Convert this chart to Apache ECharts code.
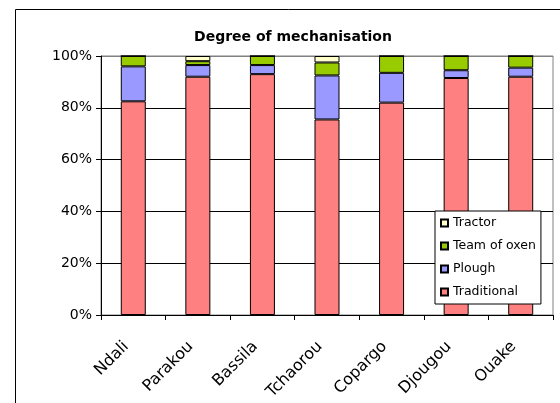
<!DOCTYPE html>
<html>
<head>
<meta charset="utf-8">
<script src="https://cdn.jsdelivr.net/npm/echarts@6/dist/echarts.min.js"></script>
<style>
  html, body { margin: 0; padding: 0; background: #fff; }
  #chart { width: 560px; height: 403px; }
</style>
</head>
<body>
<div id="chart"></div>
<script>
// Share of farms by tillage method, per locality (percent)
const locations = ['Ndali', 'Parakou', 'Bassila', 'Tchaorou', 'Copargo', 'Djougou', 'Ouake'];
const traditional = [82.5, 92, 93, 75.5, 82, 91.5, 92];
const plough      = [13.5, 4.5, 3.5, 17, 11.5, 3, 3.5];
const teamOfOxen  = [4, 1.5, 3.5, 5, 6.5, 5.5, 4.5];
const tractor     = [0, 2, 0, 2.5, 0, 0, 0];
const yTicks = [0, 20, 40, 60, 80, 100];

const font = 'DejaVu Sans, Verdana, sans-serif';

function stackSeries(name, values, color) {
  return {
    name: name,
    type: 'bar',
    stack: 'total',
    barWidth: 25,
    data: values,
    itemStyle: { color: color, borderColor: '#000', borderWidth: 1 },
    emphasis: { disabled: true }
  };
}

const chart = echarts.init(document.getElementById('chart'), null, { renderer: 'canvas' });
chart.setOption({
  animation: false,
  backgroundColor: '#fff',
  title: {
    text: 'Degree of mechanisation',
    left: 288, top: 25, textAlign: 'center',
    textStyle: { fontFamily: font, fontSize: 14, fontWeight: 'bold', color: '#000' }
  },
  legend: {
    orient: 'vertical',
    left: 435, top: 211,
    padding: [5, 5, 5, 5],
    backgroundColor: '#fff',
    borderColor: '#000', borderWidth: 1,
    itemWidth: 7, itemHeight: 7, itemGap: 9,
    icon: 'rect',
    data: ['Tractor', 'Team of oxen', 'Plough', 'Traditional'],
    textStyle: { fontFamily: font, fontSize: 12.5, color: '#000', lineHeight: 14 }
  },
  grid: { left: 101, right: 7, top: 56, bottom: 88, show: true, borderColor: '#808080', borderWidth: 1 },
  xAxis: {
    type: 'category',
    data: locations,
    axisLine: { lineStyle: { color: '#000' } },
    axisTick: { show: true, length: 5, lineStyle: { color: '#000' } },
    axisLabel: { rotate: 45, margin: 22, padding: [0, 10, 0, 0], fontFamily: font, fontSize: 16, color: '#000' }
  },
  yAxis: {
    type: 'value',
    min: yTicks[0], max: yTicks[yTicks.length - 1], interval: 20,
    axisLine: { show: true, lineStyle: { color: '#000' } },
    axisTick: { show: true, length: 5, lineStyle: { color: '#000' } },
    axisLabel: { formatter: '{value}%', margin: 9, fontFamily: font, fontSize: 14, color: '#000' },
    splitLine: { lineStyle: { color: ['#000', '#000', '#000', '#000', '#000', '#808080'] } }
  },
  series: [
    stackSeries('Traditional', traditional, '#FF8080'),
    stackSeries('Plough', plough, '#9999FF'),
    stackSeries('Team of oxen', teamOfOxen, '#99CC00'),
    stackSeries('Tractor', tractor, '#FFFFCC')
  ],
  graphic: [{
    type: 'rect',
    shape: { x: 15.5, y: 9.5, width: 600, height: 500 },
    style: { fill: 'none', stroke: '#000', lineWidth: 1 },
    silent: true
  }]
});
</script>
</body>
</html>
